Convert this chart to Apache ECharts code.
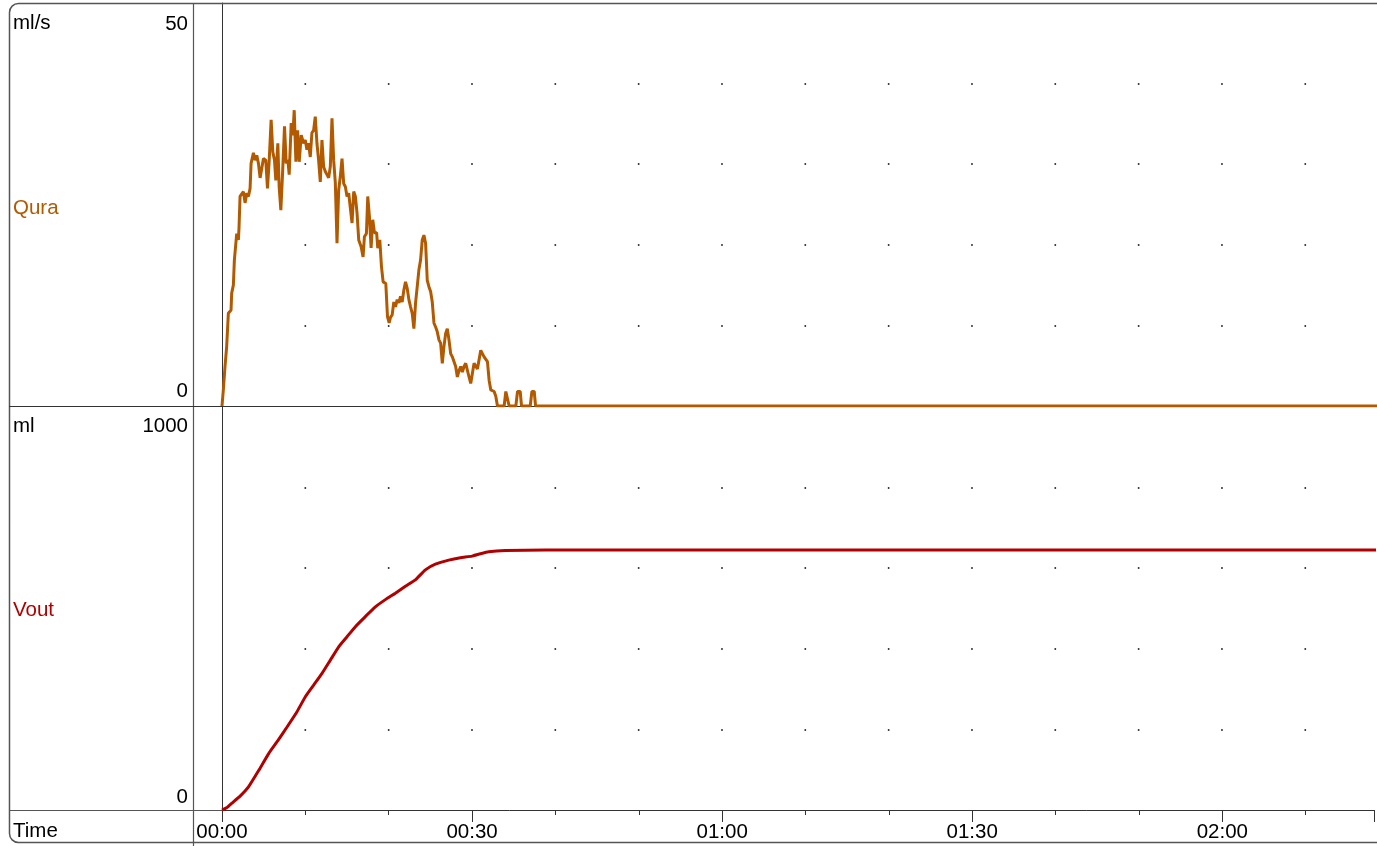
<!DOCTYPE html>
<html>
<head>
<meta charset="utf-8">
<script src="https://cdn.jsdelivr.net/npm/echarts@6/dist/echarts.min.js"></script>
<style>
html,body{margin:0;padding:0;background:#fff;}
#chart{width:1377px;height:846px;}
</style>
</head>
<body>
<div id="chart"></div>
<script>
// ---- data ----
var quraTime = [0,0.16,0.36,0.56,0.76,1.08,1.16,1.36,1.48,1.76,1.96,2.04,2.16,2.36,2.56,2.76,2.96,3.16,3.36,3.48,3.76,3.96,4.16,4.36,4.56,4.96,5.24,5.44,5.64,5.88,6.08,6.28,6.44,6.68,6.84,7.04,7.24,7.48,7.68,7.88,8.04,8.28,8.48,8.64,8.84,9.04,9.24,9.48,9.76,9.96,10.16,10.36,10.56,10.76,10.96,11.16,11.36,11.56,11.76,11.96,12.16,12.36,12.56,12.76,12.96,13.16,13.36,13.56,13.76,13.96,14.16,14.36,14.56,14.76,14.96,15.16,15.36,15.56,15.76,15.96,16.16,16.36,16.64,16.88,17.04,17.28,17.44,17.64,17.84,18.04,18.24,18.5,18.64,18.88,19.08,19.28,19.6,19.8,20.0,20.16,20.36,20.56,20.76,20.96,21.16,21.36,21.56,21.76,21.96,22.16,22.36,22.56,22.76,22.96,23.16,23.36,23.56,23.76,23.96,24.16,24.36,24.56,24.76,24.96,25.16,25.36,25.56,25.76,25.96,26.16,26.36,26.56,26.76,26.96,27.16,27.36,27.56,27.76,27.96,28.16,28.36,28.56,28.76,28.96,29.16,29.36,29.56,29.76,30.16,30.56,30.96,31.36,31.76,31.96,32.16,32.56,32.76,32.96,33.76,33.96,34.16,34.36,35.16,35.36,35.68,35.84,36.88,37.08,37.36,37.52,150];
var quraFlow = [0,2,4.9,7.4,11.5,11.9,14,15,18.1,21.4,20.6,22.2,26,26.2,26.6,25.2,26.4,26,27,30.1,31.4,30.5,31.1,30.1,28.3,30.7,30.5,27,30.3,35.5,31.5,30.5,28,32.6,27.2,24.3,28.7,34.7,30.1,30.5,28.7,35.1,33.6,36.7,30.3,34.2,30.3,33.6,32.6,33,31.8,32.6,30.9,33.9,34.2,35.9,32.6,30.5,27.8,33,29.7,29.1,28.7,28.3,29.7,35.7,30.5,27.7,20.2,26.8,28.5,30.7,27.6,27.2,26,26.4,26.4,22.7,26.6,26,23.9,20.6,19.8,18.5,21,21.4,26,23.5,19.6,23.1,21.5,21.5,19.6,20.6,17.3,15.4,15.2,11.1,10.3,11,11.3,12.9,12.3,13.2,12.8,13.6,12.9,14.4,15.4,14.6,13.2,12.3,11.5,9.6,12.8,14.8,16.9,18.1,20.6,21.2,20.2,15.6,14.8,14.2,12.9,10.3,9.8,9.2,8.2,7.8,5.3,7.4,9,9.6,8.2,6.5,6.1,6,4.9,3.6,4.4,4.9,4.2,4.9,5.3,5.1,3.6,2.8,5.3,4.6,6.9,6.1,5.5,3.2,2,1.8,1.2,0,0,1.8,1.8,0,0,1.8,1.8,0,0,1.8,1.8,0,0];

var voutTime = [0,0.6,1.2,2.2,3.2,4.4,5.6,6.7,7.8,9,10,11,12,13,14,15,16,17.2,18.4,19.6,20.8,22,23.2,24.4,25.6,27.2,28.6,30,31,32,34,38.8,150];
var voutVol  = [0,6,17,35,58,98,140,172,206,244,281,310,339,372,405,430,455,480,504,522,538,555,571,596,610,620,626,630,636,641,644,645,645];

var timeTicks = [0,30,60,90,120];
var quraTickLabels = ['0','50'];
var voutTickLabels = ['0','1000'];
var timeMax = 138.2;

// ---- helpers ----
function pairs(xs, ys){ return xs.map(function(x,i){ return [x, ys[i]]; }); }
function mmss(v){
  var m = Math.floor(v/60), s = Math.round(v%60);
  return (m<10?'0':'')+m+':'+(s<10?'0':'')+s;
}
var FONT = 'Liberation Sans, Arial, sans-serif';
var FS = 20.5;
var AX = '#333';

var chart = echarts.init(document.getElementById('chart'), null, {renderer:'canvas'});

function yAxisDef(grid, max, interval, labels, padTop, padBottom){
  return {
    type:'value', gridIndex:grid, min:0, max:max, interval:interval,
    axisLine:{show:true, lineStyle:{color:AX, width:1}},
    axisTick:{show:false},
    splitLine:{show:true, showMinLine:false, showMaxLine:false,
      lineStyle:{color:'#000', width:1.6, type:[1.6, 81.73], dashOffset:0.8}},
    axisLabel:{
      show:true, margin:34, fontFamily:FONT, fontSize:FS, color:'#000',
      formatter:function(v){
        if (v === max) return '{t|' + labels[1] + '}';
        if (v === 0) return '{b|' + labels[0] + '}';
        return '';
      },
      rich:{
        t:{fontFamily:FONT, fontSize:FS, color:'#000', padding:[padTop,0,0,0]},
        b:{fontFamily:FONT, fontSize:FS, color:'#000', padding:[0,0,padBottom,0]}
      }
    }
  };
}

var option = {
  animation:false,
  backgroundColor:'#fff',
  grid:[
    {left:222, top:3, right:0, height:403},
    {left:222, top:407, right:0, height:403}
  ],
  xAxis:[
    {type:'value', gridIndex:0, min:0, max:timeMax, interval:30, position:'bottom',
     axisLine:{show:true, lineStyle:{color:AX}}, axisTick:{show:false},
     axisLabel:{show:false}, splitLine:{show:false}},
    {type:'value', gridIndex:1, min:0, max:timeMax, interval:30, position:'bottom',
     axisLine:{show:true, lineStyle:{color:AX}},
     axisTick:{show:true, length:12, lineStyle:{color:AX}},
     splitLine:{show:false},
     axisLabel:{show:true, margin:12, fontFamily:FONT, fontSize:FS, color:'#000',
       formatter:function(v){ return timeTicks.indexOf(v) >= 0 ? mmss(v) : ''; }}},
    {type:'value', gridIndex:1, min:0, max:timeMax, interval:10, position:'bottom',
     axisLine:{show:false},
     axisTick:{show:true, length:5, lineStyle:{color:AX}},
     splitLine:{show:false}, axisLabel:{show:false}}
  ],
  yAxis:[
    yAxisDef(0, 50, 10, quraTickLabels, 42, 30),
    yAxisDef(1, 1000, 200, voutTickLabels, 38, 26)
  ],
  series:[
    {name:'Qura', type:'line', xAxisIndex:0, yAxisIndex:0, data:pairs(quraTime, quraFlow),
     showSymbol:false, symbol:'none', lineStyle:{color:'#B35A00', width:3}, z:5},
    {name:'Vout', type:'line', xAxisIndex:1, yAxisIndex:1, data:pairs(voutTime, voutVol),
     showSymbol:false, symbol:'none', smooth:0.15, lineStyle:{color:'#B00000', width:3}, z:5}
  ],
  graphic:[
    {type:'rect', shape:{x:9.5, y:3.5, width:1500, height:839, r:[9,0,0,9]},
     style:{fill:'none', stroke:'#555', lineWidth:1.5}, silent:true, z:1},
    {type:'line', shape:{x1:193.5, y1:3, x2:193.5, y2:846}, style:{stroke:'#555', lineWidth:1.2}, z:1},
    {type:'line', shape:{x1:9, y1:406.5, x2:222, y2:406.5}, style:{stroke:'#333', lineWidth:1.2}, z:1},
    {type:'line', shape:{x1:9, y1:810.5, x2:222, y2:810.5}, style:{stroke:'#555', lineWidth:1.2}, z:1},
    {type:'text', left:13, top:13, style:{text:'ml/s', fontFamily:FONT, fontSize:FS, fill:'#000'}},
    {type:'text', left:13, top:198, style:{text:'Qura', fontFamily:FONT, fontSize:FS, fill:'#B35A00'}},
    {type:'text', left:13, top:416, style:{text:'ml', fontFamily:FONT, fontSize:FS, fill:'#000'}},
    {type:'text', left:13, top:600, style:{text:'Vout', fontFamily:FONT, fontSize:FS, fill:'#B00000'}},
    {type:'text', left:13, top:821, style:{text:'Time', fontFamily:FONT, fontSize:FS, fill:'#000'}}
  ]
};
chart.setOption(option);
</script>
</body>
</html>
